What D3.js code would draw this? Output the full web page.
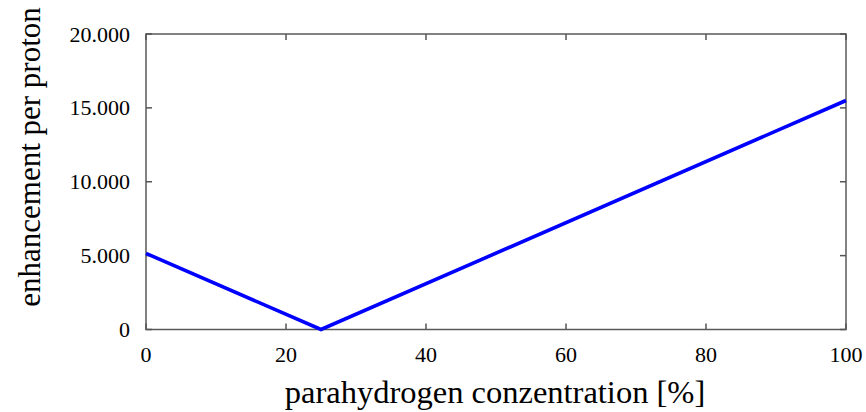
<!DOCTYPE html>
<html><head><meta charset="utf-8">
<script src="https://cdn.jsdelivr.net/npm/d3@7"></script>
<style>body{margin:0;background:#fff}svg{display:block}</style>
</head><body>
<svg id="c" width="866" height="412" font-family="'Liberation Serif', 'Times New Roman', serif"></svg>
<script>
const concentration = [0, 25, 100];
const enhancement = [5150, 0, 15500];
const xTicks = [0, 20, 40, 60, 80, 100];
const yTicks = [0, 5000, 10000, 15000, 20000];
const xTitle = "parahydrogen conzentration [%]";
const yTitle = "enhancement per proton";

const svg = d3.select("#c");
const L = 146, R = 846, T = 34, B = 329.5;
const x = d3.scaleLinear().domain([0, 100]).range([L, R]);
const y = d3.scaleLinear().domain([0, 20000]).range([B, T]);
const fmt = v => v === 0 ? "0" : d3.format(",")(v).replace(/,/g, ".");
const tickColor = "#555";
const tl = 6;
const serif = "'Liberation Serif', 'Times New Roman', serif";

svg.append("rect").attr("x", L).attr("y", T).attr("width", R - L).attr("height", B - T)
  .attr("fill", "none").attr("stroke", "#5a5a5a").attr("stroke-width", 1.5);

const g = svg.append("g").attr("stroke", tickColor).attr("stroke-width", 1.5);
xTicks.forEach(v => {
  g.append("line").attr("x1", x(v)).attr("x2", x(v)).attr("y1", B).attr("y2", B - tl);
  g.append("line").attr("x1", x(v)).attr("x2", x(v)).attr("y1", T).attr("y2", T + tl);
});
yTicks.forEach(v => {
  g.append("line").attr("x1", L).attr("x2", L + tl).attr("y1", y(v)).attr("y2", y(v));
  g.append("line").attr("x1", R).attr("x2", R - tl).attr("y1", y(v)).attr("y2", y(v));
});

svg.append("g").selectAll("text").data(xTicks).join("text")
  .attr("font-family", serif)
  .attr("x", d => x(d)).attr("y", 362).attr("text-anchor", "middle")
  .attr("font-size", 22).text(d => d);
svg.append("g").selectAll("text").data(yTicks).join("text")
  .attr("font-family", serif)
  .attr("x", 130).attr("y", d => y(d) + 7.5).attr("text-anchor", "end")
  .attr("font-size", 22).text(fmt);

const pts = concentration.map((c, i) => [c, enhancement[i]]);
svg.append("path").datum(pts)
  .attr("d", d3.line().x(d => x(d[0])).y(d => y(d[1])))
  .attr("fill", "none").attr("stroke", "#0000ff").attr("stroke-width", 3.6);

svg.append("text").attr("font-family", serif).attr("x", 495).attr("y", 403).attr("text-anchor", "middle")
  .attr("font-size", 32.5).text(xTitle);
svg.append("text").attr("font-family", serif).attr("transform", "translate(40,157) rotate(-90)")
  .attr("text-anchor", "middle").attr("font-size", 31).text(yTitle);
</script>
</body></html>
